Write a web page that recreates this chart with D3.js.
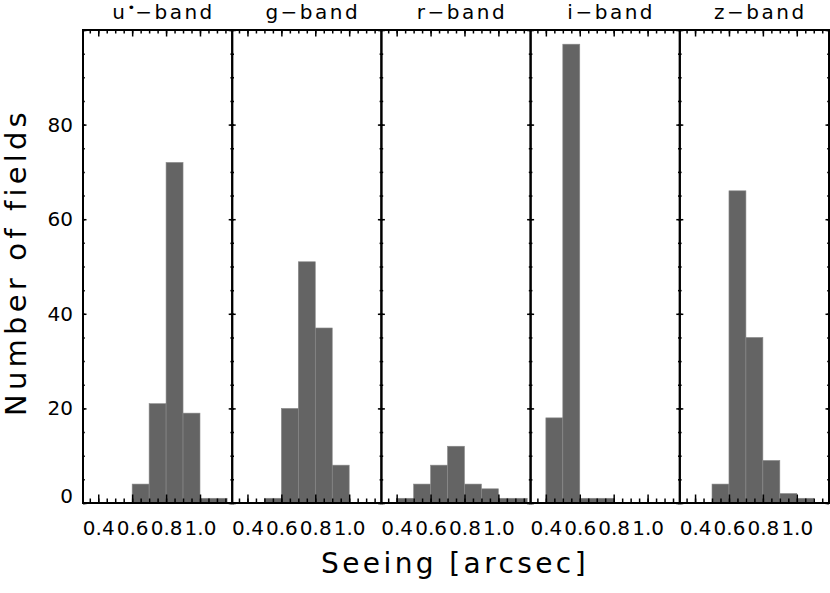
<!DOCTYPE html>
<html><head><meta charset="utf-8">
<script src="https://cdn.jsdelivr.net/npm/d3@7"></script>
<style>
body{margin:0;background:#fff}
svg{display:block}
text{font-family:"DejaVu Sans",sans-serif;fill:#000}
</style>
</head><body>
<svg id="c" width="830" height="593"></svg>
<script>
// ---- data ----
const bands = ["u", "g", "r", "i", "z"];
const bandSup = ["•", "", "", "", ""];
const uEdges = [0.6, 0.7, 0.8, 0.9, 1.0, 1.16];
const uCounts = [4, 21, 72, 19, 1];
const gEdges = [0.5, 0.6, 0.7, 0.8, 0.9, 1.0];
const gCounts = [1, 20, 51, 37, 8];
const rEdges = [0.4, 0.5, 0.6, 0.7, 0.8, 0.9, 1.0, 1.17];
const rCounts = [1, 4, 8, 12, 4, 3, 1];
const iEdges = [0.4, 0.5, 0.6, 0.8];
const iCounts = [18, 97, 1];
const zEdges = [0.5, 0.6, 0.7, 0.8, 0.9, 1.0, 1.1];
const zCounts = [4, 66, 35, 9, 2, 1];
const edgesByBand = [uEdges, gEdges, rEdges, iEdges, zEdges];
const countsByBand = [uCounts, gCounts, rCounts, iCounts, zCounts];

const xMajorTicks = [0.4, 0.6, 0.8, 1.0];
const xTickLabels = ["0.4", "0.6", "0.8", "1.0"];
const xMinorTicks = [0.35, 0.4, 0.45, 0.5, 0.55, 0.6, 0.65, 0.7, 0.75, 0.8, 0.85, 0.9, 0.95, 1.0, 1.05, 1.1, 1.15];
const yMajorTicks = [0, 20, 40, 60, 80, 100];
const yTickLabels = ["0", "20", "40", "60", "80", ""];
const yMinorTicks = [0, 5, 10, 15, 20, 25, 30, 35, 40, 45, 50, 55, 60, 65, 70, 75, 80, 85, 90, 95, 100];
const xDomain = [0.31, 1.19];
const yDomain = [0, 100];
const xTitle = "Seeing [arcsec]";
const yTitle = "Number of fields";

// ---- layout ----
const svg = d3.select("#c");
const plotL = 83, plotR = 829, plotT = 30, plotB = 503;
const panelW = (plotR - plotL) / bands.length;
const y = d3.scaleLinear().domain(yDomain).range([plotB, plotT]);
const barFill = "#646464";

function styleAxis(g) {
  g.select(".domain").remove();
  g.selectAll("line").attr("stroke", "#000").attr("stroke-width", 1.5);
  g.selectAll("text").attr("font-family", "DejaVu Sans, sans-serif").attr("font-size", 20).attr("fill", "#000");
}

bands.forEach((b, i) => {
  const x0 = plotL + i * panelW;
  const x = d3.scaleLinear().domain(xDomain).range([x0, x0 + panelW]);
  const g = svg.append("g");
  const edges = edgesByBand[i], counts = countsByBand[i];
  const bins = counts.map((c, k) => ({lo: edges[k], hi: edges[k + 1], c}));

  g.selectAll("rect.bar").data(bins).join("rect")
    .attr("class", "bar")
    .attr("x", d => x(d.lo))
    .attr("width", d => x(d.hi) - x(d.lo))
    .attr("y", d => y(d.c))
    .attr("height", d => y(0) - y(d.c))
    .attr("fill", barFill)
    .attr("stroke", "#8a8a8a")
    .attr("stroke-width", 0.6);

  // bottom axis
  g.append("g").attr("transform", `translate(0,${plotB})`)
    .call(d3.axisBottom(x).tickValues(xMinorTicks).tickSize(-4.5).tickFormat(""))
    .call(styleAxis);
  g.append("g").attr("transform", `translate(0,${plotB})`)
    .call(d3.axisBottom(x).tickValues(xMajorTicks).tickSize(-8.5).tickPadding(18)
      .tickFormat((d, k) => xTickLabels[k]))
    .call(styleAxis);
  // top axis
  g.append("g").attr("transform", `translate(0,${plotT})`)
    .call(d3.axisTop(x).tickValues(xMinorTicks).tickSize(-3.5).tickFormat(""))
    .call(styleAxis);
  g.append("g").attr("transform", `translate(0,${plotT})`)
    .call(d3.axisTop(x).tickValues(xMajorTicks).tickSize(-6.5).tickFormat(""))
    .call(styleAxis);
  // left axis
  g.append("g").attr("transform", `translate(${x0},0)`)
    .call(d3.axisLeft(y).tickValues(yMinorTicks).tickSize(-1.8).tickFormat(""))
    .call(styleAxis);
  const ly = g.append("g").attr("transform", `translate(${x0},0)`)
    .call(d3.axisLeft(y).tickValues(yMajorTicks).tickSize(-3.5).tickPadding(10)
      .tickFormat((d, k) => i === 0 ? yTickLabels[k] : ""))
    .call(styleAxis);
  // the bottom "0" label sits a little above its tick in the reference
  ly.selectAll("text").filter(d => d === 0).attr("dy", "-0.05em");
  // right axis
  g.append("g").attr("transform", `translate(${x0 + panelW},0)`)
    .call(d3.axisRight(y).tickValues(yMinorTicks).tickSize(-1.8).tickFormat(""))
    .call(styleAxis);
  g.append("g").attr("transform", `translate(${x0 + panelW},0)`)
    .call(d3.axisRight(y).tickValues(yMajorTicks).tickSize(-3.5).tickFormat(""))
    .call(styleAxis);

  // frame
  g.append("rect").attr("x", x0).attr("y", plotT).attr("width", panelW).attr("height", plotB - plotT)
    .attr("fill", "none").attr("stroke", "#000").attr("stroke-width", 2);

  // title
  const t = g.append("text").attr("x", x0 + panelW / 2 + 6).attr("y", 18.5)
    .attr("text-anchor", "middle").attr("font-size", 20).attr("letter-spacing", "2.5px");
  t.append("tspan").text(b);
  if (bandSup[i]) {
    t.append("tspan").attr("font-size", 13).attr("dy", -7).attr("letter-spacing", "0px").text(bandSup[i]);
    t.append("tspan").attr("dy", 7).text("−band");
  } else {
    t.append("tspan").text("−band");
  }
});

svg.append("text").attr("x", 455).attr("y", 573).attr("text-anchor", "middle")
  .attr("font-size", 28).attr("letter-spacing", "3.4px").text(xTitle);
svg.append("text").attr("transform", "translate(25.5,262) rotate(-90)").attr("text-anchor", "middle")
  .attr("font-size", 29).attr("letter-spacing", "4.2px").text(yTitle);
</script>
</body></html>
